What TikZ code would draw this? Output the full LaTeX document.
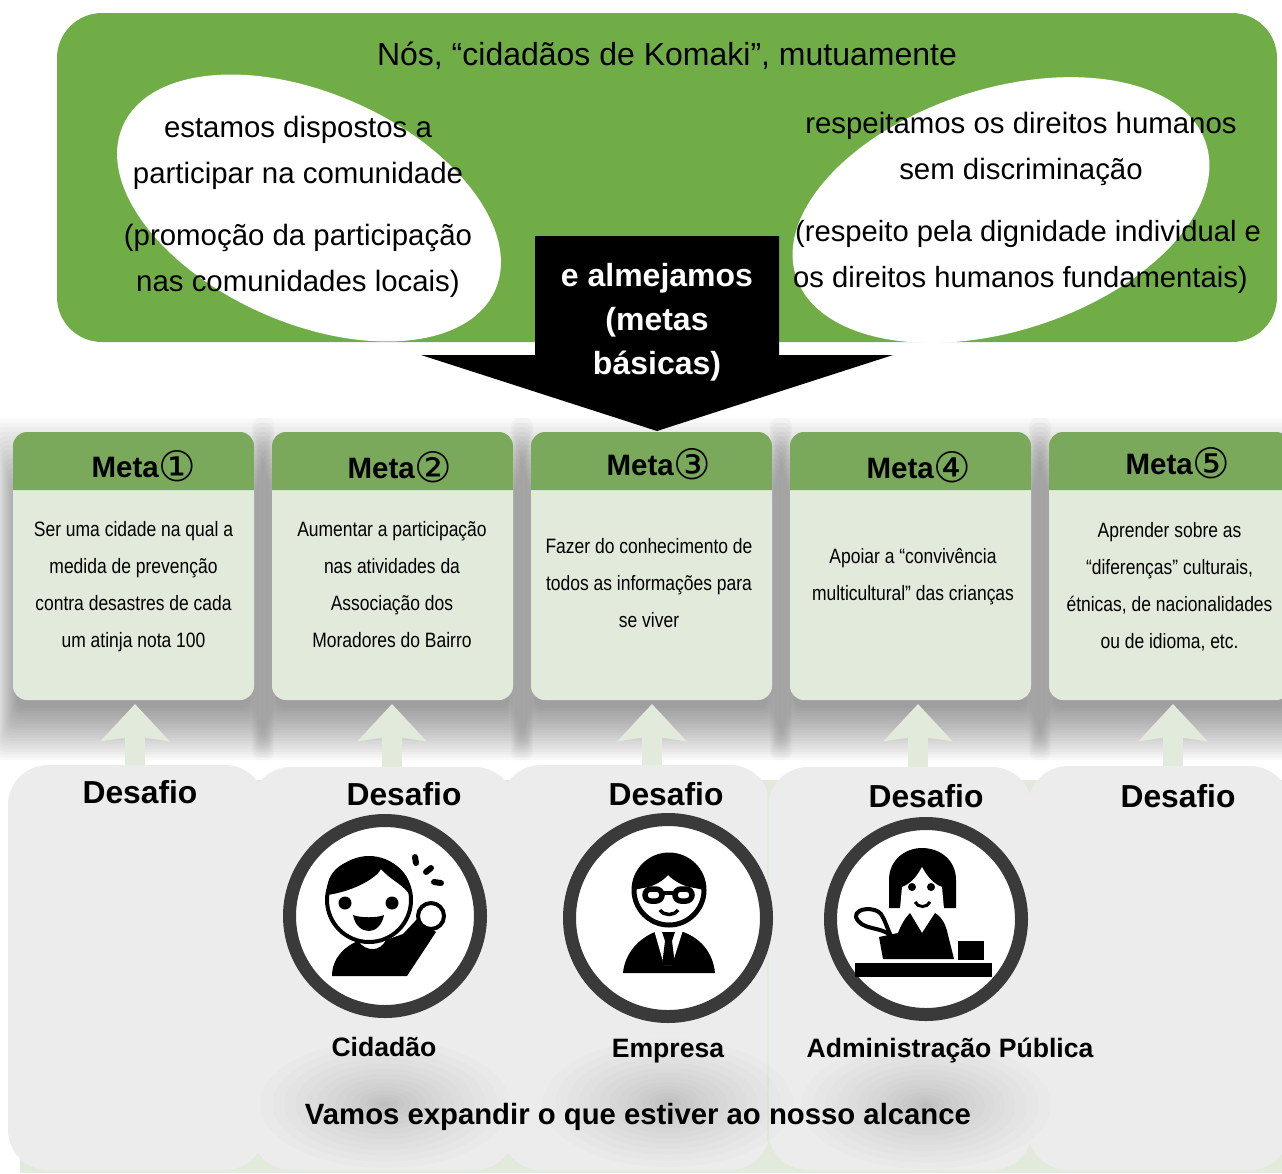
\documentclass[tikz,border=0pt]{standalone}
\usepackage{fontspec}
\setmainfont{Liberation Sans}
\newfontfamily\narrowfont[FakeStretch=0.84]{Liberation Sans}
\newfontfamily\circlefont{DejaVu Sans}
\usetikzlibrary{arrows.meta,shapes.geometric}
\definecolor{Verde1}{HTML}{70AD47}
\definecolor{Verde2}{HTML}{7AA95C}
\definecolor{Verde3}{HTML}{E2EADB}
\definecolor{Cinza1}{HTML}{ECECEC}
\definecolor{Cinza2}{HTML}{3A3A3A}
\tikzset{
 wish/.style={ellipse,fill=white,inner sep=0pt,outer sep=0pt},
 wishtxt/.style={align=center,inner sep=0pt,font=\fontsize{29.4}{46}\selectfont},
 metacard/.style={anchor=north west,fill=Verde3,rounded corners=14,minimum width=241,minimum height=268,inner sep=0pt,outer sep=0pt},
 metatxt/.style={align=center,inner sep=0pt,font=\narrowfont\fontsize{20.8}{37}\selectfont},
 metahead/.style={inner sep=0pt,font=\bfseries\fontsize{29.5}{34}\selectfont},
 panel/.style={anchor=north west,fill=Cinza1,rounded corners=40,minimum width=#1,inner sep=0pt,outer sep=0pt},
 boldtxt/.style={inner sep=0pt,font=\bfseries\fontsize{#1}{#1}\selectfont},
 uparrow/.style={Verde3,line width=20,-{Stealth[width=68,length=37,inset=5]}},
 badge/.style={circle,draw=Cinza2,fill=white,line width=13,inner sep=0pt},
}
\newcommand{\numcirc}[1]{\raisebox{-3.5pt}{\circlefont\mdseries\fontsize{42}{42}\selectfont #1}}
\begin{document}
\begin{tikzpicture}[x=1pt,y=-1pt]
\useasboundingbox (0,0) rectangle (1282,1173);

% top block
\fill[Verde1,rounded corners=45] (57,13) rectangle (1277,342);
\node[wish,minimum width=407,minimum height=230,rotate=-23.8] (wish1) at (309,208) {};
\node[wish,minimum width=431,minimum height=242,rotate=17.9] (wish2) at (1001,210) {};
\node[inner sep=0pt,font=\fontsize{32}{36}\selectfont] (title) at (667,56) {Nós, “cidadãos de Komaki”, mutuamente};
\node[wishtxt] (wish1a) at (298,153) {estamos dispostos a\\participar na comunidade};
\node[wishtxt] (wish1b) at (298,261) {(promoção da participação\\nas comunidades locais)};
\node[wishtxt] (wish2a) at (1021,149) {respeitamos os direitos humanos\\sem discriminação};
\node[wishtxt,align=left,anchor=west,font=\fontsize{29.2}{46}\selectfont] (wish2b) at (793,257) {\hspace{2pt}(respeito pela dignidade individual e\\os direitos humanos fundamentais)};

% shadow of the cards
\foreach \pos in {13,272,531,790,1049}
\foreach \i in {0,...,19}
\fill[black,opacity=0.025,rounded corners=8] ({\pos-20+\i*1.25},{418+\i*4.5}) rectangle ({\pos+261-\i*1.25},{760-\i*2.75});

% big arrow
\fill (535,236) -- (779,236) -- (779,355) -- (893,355) -- (657,431) -- (421,355) -- (535,355) -- cycle;
\node[align=center,text=white,inner sep=0pt,font=\bfseries\fontsize{32}{44}\selectfont] (basic) at (657,322) {e almejamos\\(metas\\básicas)};

% lower panels
\fill[Verde3] (20,780) rectangle (1282,1173);
\foreach \pos/\xa/\ya/\wid in {1/8/765/257,2/251/767/264,3/501/765/269,4/768/767/264,5/1028/766/262}
\node[panel=\wid,minimum height={1170-\ya}] (d\pos) at (\xa,\ya) {};
\draw[Verde3,line width=1.5] (768,790) -- (768,1140);

% cards
\foreach \pos/\xa in {1/13,2/272,3/531,4/790,5/1049}{
\node[metacard] (m\pos) at (\xa,432) {};
\fill[Verde2,rounded corners=14] (\xa,490) -- (\xa,432) -- ({\xa+241},432) -- ({\xa+241},490);
}
\foreach \pos/\tipx in {1/135,2/392,3/652,4/918,5/1173}{
\coordinate (tip\pos) at (\tipx,704);
\draw[uparrow] (d\pos.north -| tip\pos) -- (tip\pos);
}

\node[metahead] (h1) at (144,466) {Meta\numcirc{①}};
\node[metahead] (h2) at (400,467) {Meta\numcirc{②}};
\node[metahead] (h3) at (659,464) {Meta\numcirc{③}};
\node[metahead] (h4) at (919,467) {Meta\numcirc{④}};
\node[metahead] (h5) at (1178,463) {Meta\numcirc{⑤}};

\node[metatxt] (t1) at (133.5,586.5) {Ser uma cidade na qual a\\medida de prevenção\\contra desastres de cada\\um atinja nota 100};
\node[metatxt] (t2) at (392,585) {Aumentar a participação\\nas atividades da\\Associação dos\\Moradores do Bairro};
\node[metatxt] (t3) at (649,583) {Fazer do conhecimento de\\todos as informações para\\se viver};
\node[metatxt] (t4) at (913,576.5) {Apoiar a “convivência\\multicultural” das crianças};
\node[metatxt] (t5) at (1169.5,586.5) {Aprender sobre as\\“diferenças” culturais,\\étnicas, de nacionalidades\\ou de idioma, etc.};

% soft shadows
\foreach \pos/\sx/\sy in {1/385/1104,2/668/1103,3/926/1105}
\foreach \i in {1,...,16}
\fill[black,opacity=0.01] (\sx,\sy) ellipse ({125*(\i/16)^1.6} and {64*(\i/16)^1.6});

\node[boldtxt=31.8] (c1) at (140,792) {Desafio};
\node[boldtxt=31.8] (c2) at (404,794) {Desafio};
\node[boldtxt=31.8] (c3) at (666,794) {Desafio};
\node[boldtxt=31.8] (c4) at (926,796) {Desafio};
\node[boldtxt=31.8] (c5) at (1178,796) {Desafio};

% badges
\node[badge,minimum size=191] (b1) at (385,916) {};
\node[badge,minimum size=197] (b2) at (668,918) {};
\node[badge,minimum size=191] (b3) at (926,919) {};

% citizen
\fill (332,976) .. controls (332,958) and (345,946) .. (358,941) .. controls (366,952) and (380,952) .. (386,940) -- (403,934) -- (418,918) -- (436,932) -- (407,976) -- cycle;
\draw[line width=4,fill=white] (369,900) circle (42);
\fill (327,895) .. controls (325,870) and (345,858) .. (369,858) .. controls (393,858) and (412,872) .. (411,897) .. controls (405,885) and (390,880) .. (381,869) .. controls (375,880) and (350,892) .. (327,895) -- cycle;
\fill (345,903) circle (6.5) (392,903) circle (6.5);
\fill (353,915) .. controls (360,918) and (378,918) .. (384,915) .. controls (382,926) and (375,931) .. (369,931) .. controls (362,931) and (355,926) .. (353,915) -- cycle;
\draw[line width=4,fill=white] (431,916) circle (13);
\draw[line width=6,line cap=round] (415,857) -- (416,863) (426,872) -- (431,868) (434,882) -- (441,883);

% company
\fill (623,973) .. controls (625,952) and (640,938) .. (655,932) -- (683,932) .. controls (700,938) and (713,952) .. (715,973) -- cycle;
\fill[white] (654,930) -- (664,965) -- (672,965) -- (683,930) -- cycle;
\fill (662,932) -- (675,932) -- (672,941) -- (675,965) -- (662,965) -- (665,941) -- cycle;
\draw[line width=5,fill=white] (669,890) circle (35);
\fill (634,890) .. controls (632,865) and (650,855) .. (669,855) .. controls (688,855) and (706,865) .. (704,890) -- (695,888) .. controls (685,887) and (675,882) .. (668,875) .. controls (662,882) and (652,887) .. (643,888) -- cycle;
\draw[line width=5.5,fill=white,rounded corners=6] (645,889) rectangle (662,901) (675,889) rectangle (692,901);
\draw[line width=4] (662,893) -- (675,893);
\draw[line width=3.5] (660,910) .. controls (664,916) and (674,916) .. (678,910);

% public office
\fill (889,908) -- (889,880) .. controls (889,860) and (905,848) .. (922,848) .. controls (940,848) and (956,860) .. (956,880) -- (956,908) -- cycle;
\fill[white] (922,867) .. controls (916,878) and (910,884) .. (902,887) -- (900,909) -- (944,909) -- (942,887) .. controls (934,884) and (928,878) .. (922,867) -- cycle;
\fill (912,887) circle (4) (931,887) circle (4);
\draw[line width=3] (915,902) .. controls (918,908) and (927,908) .. (930,902);
\fill (883,959) -- (879,937) -- (898,933) .. controls (901,925) and (905,918) .. (910,913) -- (922,933) -- (935,913) .. controls (942,917) and (946,925) .. (948,935) -- (954,959) -- cycle;
\draw[line width=4,fill=white] (856,917) .. controls (855,907) and (876,907) .. (881,914) .. controls (885,920) and (887,928) .. (891,936) .. controls (882,926) and (861,931) .. (856,917) -- cycle;
\fill (855,963) rectangle (992,977);
\fill (958,941) rectangle (984,960);

% names of the actors
\node[boldtxt=26.6] (n1) at (384,1047) {Cidadão};
\node[boldtxt=26.6] (n2) at (668,1051.5) {Empresa};
\node[boldtxt=26.6] (n3) at (950,1050) {Administração Pública};
\node[boldtxt=29.3] (n4) at (638,1116.5) {Vamos expandir o que estiver ao nosso alcance};
\end{tikzpicture}
\end{document}
